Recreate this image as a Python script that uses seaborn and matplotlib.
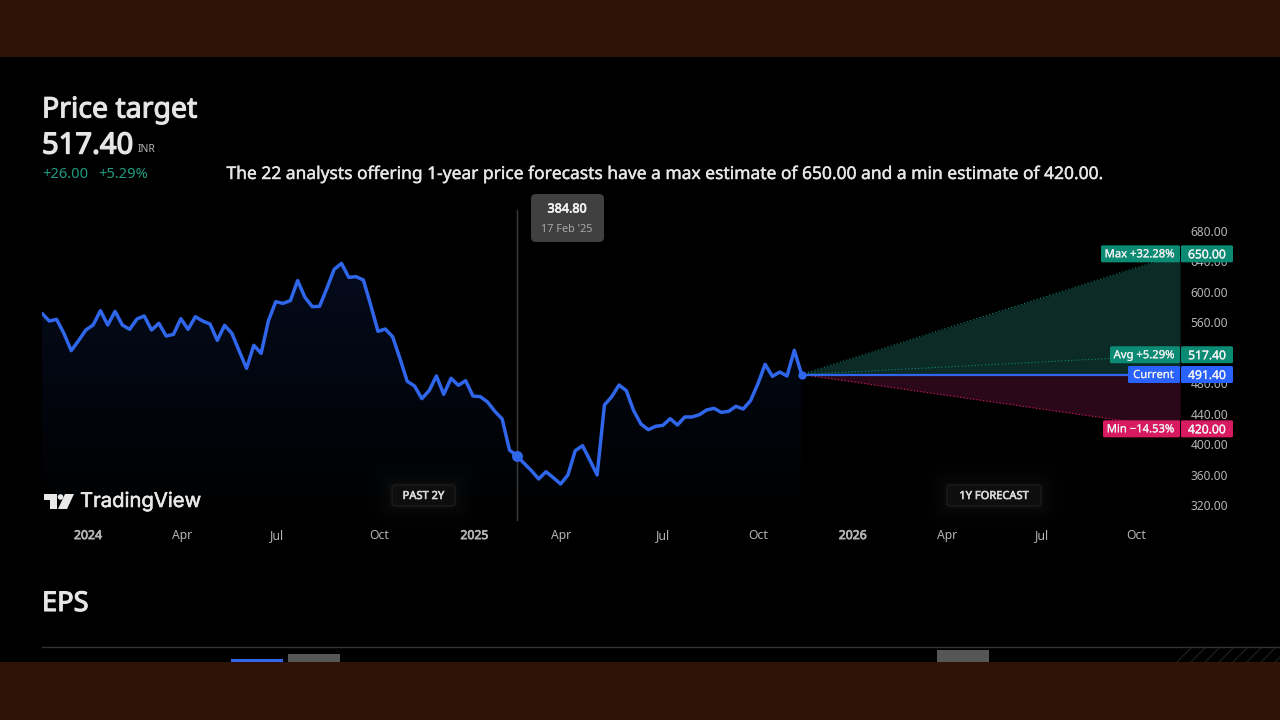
import matplotlib
matplotlib.use('Agg')
import matplotlib.pyplot as plt
import matplotlib.patheffects as pe
import numpy as np
import pandas as pd
import seaborn as sns
from matplotlib.patches import FancyBboxPatch, Polygon, Rectangle, Circle

# weekly closes
prices = [571.8, 561.7, 563.9, 545.5, 522.8, 535.9, 549.9, 556.5, 575.3, 556.5,
          574.4, 556.5, 550.8, 564.4, 568.3, 549.9, 558.7, 542.0, 544.2, 564.8,
          550.8, 567.4, 561.7, 557.8, 536.3, 556.0, 545.5, 522.3, 499.5, 529.8,
          519.2, 562.2, 587.1, 584.9, 588.5, 614.8, 592.8, 580.6, 581.0, 604.7,
          629.6, 637.5, 619.1, 620.0, 615.6, 582.8, 548.2, 551.2, 541.1, 512.7,
          482.5, 476.3, 459.7, 470.2, 489.5, 465.4, 486.4, 477.2, 483.3, 463.2,
          462.3, 455.3, 443.0, 433.0, 392.2, 384.8, 374.7, 365.1, 354.1, 363.7,
          355.9, 347.5, 359.4, 391.3, 397.9, 379.1, 359.4, 451.3, 462.3, 477.6,
          470.2, 443.9, 426.4, 418.9, 423.3, 424.6, 433.4, 425.1, 435.6, 435.6,
          438.6, 444.8, 447.0, 441.7, 443.0, 449.6, 446.1, 457.0, 479.0, 504.8,
          489.0, 494.7, 489.5, 523.2, 491.4]
hover_week = 65
current = 491.4
target_max = 650.0
target_avg = 517.4
target_min = 420.0
horizon_week = 155.8

y_ticks = [320, 360, 400, 440, 480, 560, 600, 640, 680]
x_tick_weeks = [6.3, 19.2, 32.2, 46.2, 59.2, 71.1, 85.0, 98.0, 111.0, 123.9, 136.9, 149.8]
x_tick_labels = ['2024', 'Apr', 'Jul', 'Oct', '2025', 'Apr', 'Jul', 'Oct', '2026', 'Apr', 'Jul', 'Oct']

BLUE = '#2f66ea'
GREEN = '#0b8a74'
RED = '#d81b60'
BAND = '#2f1307'
GREY = '#b4b4b4'

sns.set_theme(style='dark', rc={'figure.facecolor': 'black', 'axes.facecolor': 'black'})
plt.rcParams['font.family'] = ['Noto Sans', 'DejaVu Sans']


def heavy(t, w=0.5):
    # the installed Noto Sans has one weight only, so thicken the outline
    t.set_path_effects([pe.withStroke(linewidth=w, foreground=t.get_color())])
    return t


fig = plt.figure(figsize=(12.8, 7.2), dpi=100)
ax = fig.add_axes([42 / 1280, 1 - 521 / 720, (1180 - 42) / 1280, (521 - 210) / 720])

df = pd.DataFrame({'week': np.arange(len(prices)), 'price': prices})
ymin, ymax = 298.9, 707.6
xmax = horizon_week

# area under the line, fading out to the bottom
grad = np.zeros((256, 1, 4))
grad[:, 0, 0] = 41 / 255
grad[:, 0, 1] = 98 / 255
grad[:, 0, 2] = 1
grad[:, 0, 3] = np.linspace(0.12, 0.0, 256)
im = ax.imshow(grad, extent=[0, df.week.iloc[-1], ymin, 640], aspect='auto', zorder=1)
poly = ax.fill_between(df.week, df.price, ymin, color='none')
im.set_clip_path(poly.get_paths()[0], transform=ax.transData)

# forecast fan
fx = [df.week.iloc[-1], horizon_week]
ax.fill_between(fx, [current, current], [current, target_max], color='#0c2b26', lw=0, zorder=1)
ax.fill_between(fx, [current, current], [current, target_min], color='#2a0819', lw=0, zorder=1)
ax.plot(fx, [current, target_max], color=GREEN, lw=0.8, ls=(0, (1, 2)), zorder=2)
ax.plot(fx, [current, target_avg], color=GREEN, lw=0.8, ls=(0, (1, 2)), zorder=2)
ax.plot(fx, [current, target_min], color=RED, lw=0.8, ls=(0, (1, 2)), zorder=2)
ax.plot(fx, [current, current], color=BLUE, lw=1.6, zorder=2)

ax.axvline(hover_week, color='#3c3c3c', lw=1, zorder=2)
sns.lineplot(data=df, x='week', y='price', ax=ax, color=BLUE, lw=2.5, zorder=3)
ax.scatter([hover_week], [prices[hover_week]], s=62, color=BLUE, lw=0, zorder=4)
ax.scatter([df.week.iloc[-1]], [current], s=36, color=BLUE, lw=0, zorder=4)

ax.set_xlim(0, xmax)
ax.set_ylim(ymin, ymax)
ax.set_xlabel('')
ax.set_ylabel('')
ax.set_xticks(x_tick_weeks)
ax.set_xticklabels(x_tick_labels, fontsize=8.8, color=GREY, va='baseline')
for t in ax.get_xticklabels():
    if t.get_text().startswith('20'):
        heavy(t, 0.55)
ax.yaxis.tick_right()
ax.set_yticks(y_ticks)
ax.set_yticklabels([f'{v:.2f}' for v in y_ticks], fontsize=8.6, color=GREY)
ax.tick_params(axis='x', length=0, pad=13)
ax.tick_params(axis='y', length=0, pad=7.5)
for t in ax.get_yticklabels():
    t.set_va('center_baseline')
sns.despine(ax=ax, left=True, bottom=True, right=True, top=True)
ax.grid(False)

# overlay in pixel coordinates for the page furniture
over = fig.add_axes([0, 0, 1, 1], zorder=5)
over.set_xlim(0, 1280)
over.set_ylim(720, 0)
over.axis('off')
over.patch.set_alpha(0)


def rbox(x0, y0, x1, y1, color, r=2, **kw):
    over.add_patch(FancyBboxPatch((x0 + r, y0 + r), x1 - x0 - 2 * r, y1 - y0 - 2 * r,
                                  boxstyle=f'round,pad={r},rounding_size={r}', fc=color, lw=0, **kw))


def value_y(v):
    return 720 - ax.transData.transform((0, v))[1]


over.add_patch(Rectangle((0, 0), 1280, 57, fc=BAND, lw=0))

heavy(over.text(42, 110, 'Price target', fontsize=20.5, color='#e6e6e6', va='center'), 0.8)
heavy(over.text(42, 146, '517.40', fontsize=21, color='#e6e6e6', va='center'), 1.0)
over.text(138, 150, 'INR', fontsize=7.5, color='#b4b4b4', va='center')
over.text(42, 175, '+26.00', fontsize=10.6, color='#1f9a80', va='center')
over.text(98, 175, '+5.29%', fontsize=10.6, color='#1f9a80', va='center')
heavy(over.text(665, 174, 'The 22 analysts offering 1-year price forecasts have a max estimate of 650.00 and a min estimate of 420.00.',
                fontsize=12.55, color='#e6e6e6', ha='center', va='center'), 0.3)

# tooltip
rbox(531, 194, 604, 242, '#404040', r=5)
heavy(over.text(567, 209, f'{prices[hover_week]:.2f}', fontsize=9, color='#f0f0f0', ha='center', va='center'), 0.5)
over.text(567, 230, "17 Feb '25", fontsize=7.8, color='#a8a8a8', ha='center', va='center')

# tags on the right
tags = [('Max +32.28%', target_max, GREEN, 1101), ('Avg +5.29%', target_avg, GREEN, 1110),
        ('Current', current, '#2962ff', 1128), ('Min \u221214.53%', target_min, RED, 1103)]
for name, v, col, left in tags:
    yc = value_y(v)
    rbox(left, yc - 8.5, 1180, yc + 8.5, col, r=1.5)
    rbox(1181, yc - 8.5, 1233, yc + 8.5, col, r=1.5)
    heavy(over.text(1174, yc + 1, name, fontsize=8.1, color='#f0f0f0', ha='right', va='center'), 0.15)
    heavy(over.text(1207, yc + 1, f'{v:.2f}', fontsize=8.7, color='#f4f4f4', ha='center', va='center'), 0.2)

# period badges with a soft glow
for label, x0, x1 in [('PAST 2Y', 392, 455), ('1Y FORECAST', 947, 1041)]:
    for g, a in [(24, 0.006), (18, 0.008), (12, 0.01), (7, 0.012), (3, 0.015)]:
        rbox(x0 - g, 485 - g, x1 + g, 506 + g, 'white', r=g, alpha=a)
    over.add_patch(FancyBboxPatch((x0 + 3, 488), x1 - x0 - 6, 15, boxstyle='round,pad=3,rounding_size=3',
                                  fc='#0e0e0e', ec='#1c1c1c', lw=1))
    heavy(over.text((x0 + x1) / 2, 496.5, label, fontsize=8, color='#d8d8d8', ha='center', va='center'), 0.45)

# logo
logo = '#e8e8e8'
over.add_patch(Polygon([(44, 494), (57, 494), (57, 509), (50, 509), (50, 500), (44, 500)], fc=logo, lw=0))
over.add_patch(Circle((60.5, 497), 2.8, fc=logo, lw=0))
over.add_patch(Polygon([(65, 494), (74, 494), (67, 509), (58, 509)], fc=logo, lw=0))
heavy(over.text(80, 502, 'TradingView', fontsize=14.6, color=logo, fontfamily='Inter', va='center'), 0.4)

# start of the next section, cut off by the band
heavy(over.text(42, 604, 'EPS', fontsize=19.6, color='#e6e6e6', va='center'), 0.8)
over.plot([42, 1280], [646.5, 646.5], color='#333333', lw=1)
over.add_patch(Rectangle((231, 659), 52, 4, fc=BLUE, lw=0))
over.add_patch(Rectangle((288, 654), 52, 9, fc='#565656', lw=0))
over.add_patch(Rectangle((937, 650), 52, 13, fc='#565656', lw=0))
for hx in np.arange(1177, 1290, 14):
    over.plot([hx, hx + 15], [662, 647], color='#222222', lw=0.8)
over.add_patch(Rectangle((0, 662), 1280, 58, fc=BAND, lw=0, zorder=6))

fig.savefig('out.png', dpi=100, facecolor='black')
